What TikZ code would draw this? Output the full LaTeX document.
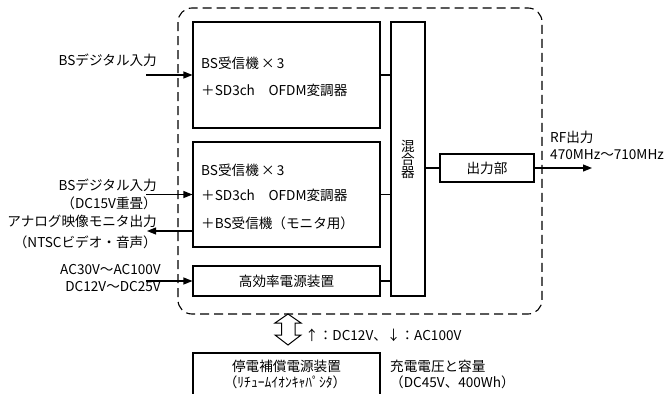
\documentclass[tikz,border=0pt]{standalone}
\usepackage{fontspec}
\setmainfont{Noto Sans CJK JP}
\usetikzlibrary{arrows.meta}
\begin{document}
\begin{tikzpicture}[x=1pt,y=-1pt,
  every node/.style={font=\fontsize{13.6}{15}\selectfont, inner sep=0pt},
  blk/.style={draw, line width=1.1pt, rectangle},
  lbl/.style={anchor=east},
  txt/.style={anchor=west},
  wire/.style={line width=1.1pt},
  arr/.style={line width=1.1pt, -{Triangle[length=9pt,width=7pt]}},
  frame/.style={line width=1.1pt, dash pattern=on 9pt off 5pt, rounded corners=14pt}]
\useasboundingbox (0,0) rectangle (665,394);
\clip (0,0) rectangle (665,394);
% dashed frame
\draw[frame] (178,8) rectangle (542,314);
% blocks
\node[blk, minimum width=187pt, minimum height=106pt] (box1) at (286.5,75) {};
\node[blk, minimum width=187pt, minimum height=105pt] (box2) at (286.5,194.5) {};
\node[blk, minimum width=187pt, minimum height=30pt] (pwr) at (286.5,281) {高効率電源装置};
\node[blk, minimum width=34pt, minimum height=274pt, align=center] (mix) at (408,159) {混\\[-2pt]合\\[-2pt]器};
\node[blk, minimum width=94pt, minimum height=28pt] (out) at (487,168) {出力部};
\node[blk, minimum width=187pt, minimum height=47pt] (ups) at (286.5,376.5) {};
% box texts
\node[txt] (t1a) at (201,63) {BS受信機\,×\,3};
\node[txt] (t1b) at (201,90) {＋SD3ch　OFDM変調器};
\node[txt] (t2a) at (201,170) {BS受信機\,×\,3};
\node[txt] (t2b) at (201,195) {＋SD3ch　OFDM変調器};
\node[txt] (t2c) at (201,223) {＋BS受信機（モニタ用）};
\node (u1) at (286.5,366) {停電補償電源装置};
\node (u2) at (285,382) {（ﾘﾁｭｰﾑｲｵﾝｷｬﾊﾟｼﾀ）};
% connectors to mixer
\draw[wire] (box1.east) -- (box1.east -| mix.west);
\draw[wire] (box2.east) -- (box2.east -| mix.west);
\draw[wire] (pwr.east) -- (pwr.east -| mix.west);
\draw[wire] (out.west -| mix.east) -- (out.west);
\coordinate (rf) at (592,168);
\draw[arr] (out.east) -- (rf);
\node[txt] (rfa) at (550,137) {RF出力};
\node[txt] (rfb) at (550,155) {470MHz～710MHz};
% inputs
\coordinate (in1) at (146,75);
\coordinate (in2) at (146,194.5);
\coordinate (mon) at (147,231);
\coordinate (in3) at (146,281);
\draw[arr] (in1) -- (in1 -| box1.west);
\draw[arr] (in2) -- (in2 -| box2.west);
\draw[arr] (mon -| box2.west) -- (mon);
\draw[arr] (in3) -- (in3 -| pwr.west);
\node[lbl] (l1) at (157,60) {BSデジタル入力};
\node[lbl] (l2) at (157,185) {BSデジタル入力};
\node[lbl] (l3) at (157,203) {（DC15V重畳）};
\node[lbl] (l4) at (157,221) {アナログ映像モニタ出力};
\node[lbl] (l5) at (157,242) {（NTSCビデオ・音声）};
\node[lbl] (l6) at (161,270) {AC30V～AC100V};
\node[lbl] (l7) at (161,287) {DC12V～DC25V};
% double arrow
\draw[line width=1pt, line join=miter] (288,314) -- (301,323) -- (295,323) -- (295,335) -- (301,335) -- (288,345) -- (275,335) -- (281.5,335) -- (281.5,323) -- (275,323) -- cycle;
\node[txt] (dbl) at (305,335) {↑：DC12V、↓：AC100V};
\node[txt] (c1) at (390,366) {充電電圧と容量};
\node[txt] (c2) at (390,382) {（DC45V、400Wh）};
\end{tikzpicture}
\end{document}
